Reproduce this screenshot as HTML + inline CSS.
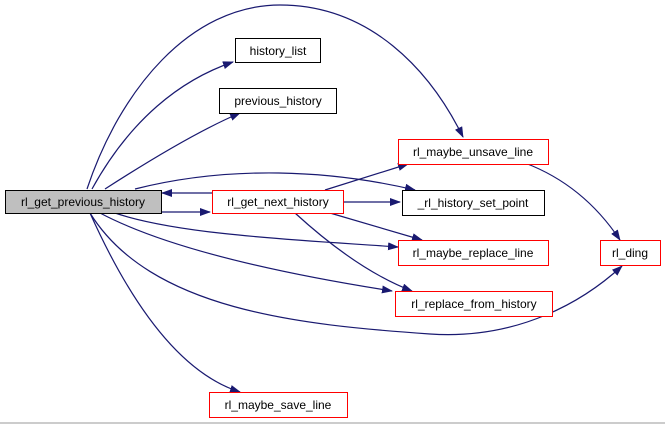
<!DOCTYPE html>
<html><head><meta charset="utf-8"><style>
html,body{margin:0;padding:0;background:#fff;width:665px;height:424px;overflow:hidden}
text{font-family:"Liberation Sans",Helvetica,sans-serif;font-size:12px;fill:#000}
</style></head><body>
<svg width="665" height="424" viewBox="0 0 665 424" xmlns="http://www.w3.org/2000/svg">
<defs><marker id="a" markerWidth="11" markerHeight="8" refX="10" refY="4" orient="auto" markerUnits="userSpaceOnUse"><path d="M0,0 L11,4 L0,8 Z" fill="#191970"/></marker></defs>
<g fill="none" stroke="#191970" stroke-width="1.2" marker-end="url(#a)">
<path d="M87,189 C120,90 190,5 280,5 C370,5 430,70 463,137"/>
<path d="M92,189 C130,120 180,80 233,62"/>
<path d="M105,189 C150,160 200,130 240,113"/>
<path d="M160,212 L210,212"/>
<path d="M212,193 L162,193"/>
<path d="M135,189 C230,165 330,170 415,190"/>
<path d="M115,213 C180,235 300,240 398,247"/>
<path d="M100,213 C170,250 290,275 392,291"/>
<path d="M90,213 C150,310 300,325 430,334 C520,340 585,300 622,266"/>
<path d="M90,213 C120,280 170,370 240,392"/>
<path d="M325,190 L408,164"/>
<path d="M344,202 L400,202"/>
<path d="M330,213 L422,240"/>
<path d="M295,213 C330,245 370,275 412,291"/>
<path d="M525,163 C570,180 600,210 620,240"/>
</g>
<rect x="5.5" y="190.5" width="156" height="23" fill="#bfbfbf" stroke="#000"/>
<text x="83" y="206" text-anchor="middle">rl_get_previous_history</text>
<rect x="235.5" y="38.5" width="85" height="24" fill="#fff" stroke="#000"/>
<text x="278" y="55" text-anchor="middle">history_list</text>
<rect x="219.5" y="88.5" width="117" height="25" fill="#fff" stroke="#000"/>
<text x="278" y="105" text-anchor="middle">previous_history</text>
<rect x="212.5" y="190.5" width="131" height="23" fill="#fff" stroke="#f00"/>
<text x="278" y="206" text-anchor="middle">rl_get_next_history</text>
<rect x="398.5" y="139.5" width="150" height="25" fill="#fff" stroke="#f00"/>
<text x="473" y="156" text-anchor="middle">rl_maybe_unsave_line</text>
<rect x="402.5" y="190.5" width="142" height="25" fill="#fff" stroke="#000"/>
<text x="473" y="207" text-anchor="middle">_rl_history_set_point</text>
<rect x="398.5" y="240.5" width="150" height="25" fill="#fff" stroke="#f00"/>
<text x="473" y="257" text-anchor="middle">rl_maybe_replace_line</text>
<rect x="600.5" y="240.5" width="60" height="25" fill="#fff" stroke="#f00"/>
<text x="630" y="257" text-anchor="middle">rl_ding</text>
<rect x="395.5" y="291.5" width="157" height="25" fill="#fff" stroke="#f00"/>
<text x="474" y="308" text-anchor="middle">rl_replace_from_history</text>
<rect x="209.5" y="392.5" width="138" height="25" fill="#fff" stroke="#f00"/>
<text x="278" y="409" text-anchor="middle">rl_maybe_save_line</text>
<line x1="0" y1="423" x2="665" y2="423" stroke="#999" stroke-width="1"/>
</svg>
</body></html>
